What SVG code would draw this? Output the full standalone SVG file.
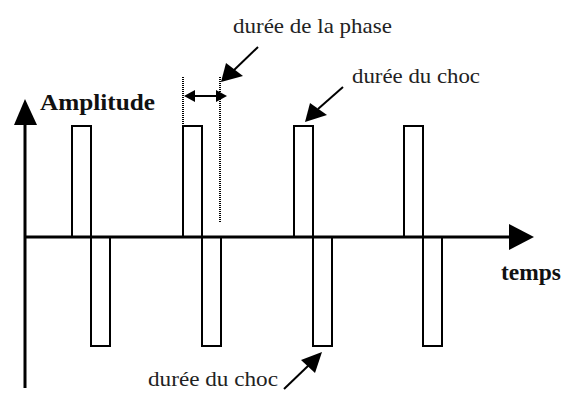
<svg xmlns="http://www.w3.org/2000/svg" width="567" height="399" viewBox="0 0 567 399">
<style>
.pulse{fill:none;stroke:#000;stroke-width:2}
.axis{stroke:#000;stroke-width:3;fill:none}
.lbl{font-family:'Liberation Serif','DejaVu Serif',serif;font-size:21px;fill:#222}
.bold{font-family:'Liberation Serif','DejaVu Serif',serif;font-size:23px;font-weight:bold;fill:#111}
.dot{stroke:#000;stroke-width:2;stroke-dasharray:1 1;fill:none}
.ptr{stroke:#000;stroke-width:2;fill:none}
</style>
<rect width="567" height="399" fill="#fff"/>
<g id="axes">
<line class="axis" x1="25" y1="120" x2="25" y2="388"/>
<polygon points="25,99 14,125 37,125" fill="#000"/>
<line class="axis" x1="25" y1="237" x2="512" y2="237"/>
<polygon points="534,237 509,224 509,250" fill="#000"/>
</g>
<g id="pulses">
<rect class="pulse" x="72" y="126" width="19" height="111"/>
<rect class="pulse" x="91" y="237" width="19" height="109"/>
<rect class="pulse" x="183" y="126" width="19" height="111"/>
<rect class="pulse" x="202" y="237" width="19" height="109"/>
<rect class="pulse" x="294" y="126" width="19" height="111"/>
<rect class="pulse" x="313" y="237" width="19" height="109"/>
<rect class="pulse" x="404" y="126" width="19" height="111"/>
<rect class="pulse" x="423" y="237" width="19" height="109"/>
</g>
<g id="connectors">
<line class="dot" x1="183" y1="77" x2="183" y2="125"/>
<line class="dot" x1="220" y1="77" x2="220" y2="222"/>
<line class="ptr" x1="192" y1="96" x2="218" y2="96"/>
<polygon points="184,96 195,90 195,102" fill="#000"/>
<polygon points="227,96 216,90 216,102" fill="#000"/>
<line class="ptr" x1="258" y1="47" x2="232" y2="72"/>
<polygon points="221,82 226,63 243,76" fill="#000"/>
<line class="ptr" x1="343" y1="87" x2="318" y2="109"/>
<polygon points="305,122 310,103 327,115" fill="#000"/>
<line class="ptr" x1="284" y1="389" x2="309" y2="365"/>
<polygon points="322,352 301,360 315,373" fill="#000"/>
</g>
<g id="labels">
<text class="bold" x="40" y="110" textLength="115" lengthAdjust="spacingAndGlyphs">Amplitude</text>
<text class="bold" x="501" y="280" textLength="60" lengthAdjust="spacingAndGlyphs">temps</text>
<text class="lbl" x="233" y="33" textLength="159" lengthAdjust="spacingAndGlyphs">durée de la phase</text>
<text class="lbl" x="352" y="83" textLength="128" lengthAdjust="spacingAndGlyphs">durée du choc</text>
<text class="lbl" x="148" y="386" textLength="130" lengthAdjust="spacingAndGlyphs">durée du choc</text>
</g>
</svg>
